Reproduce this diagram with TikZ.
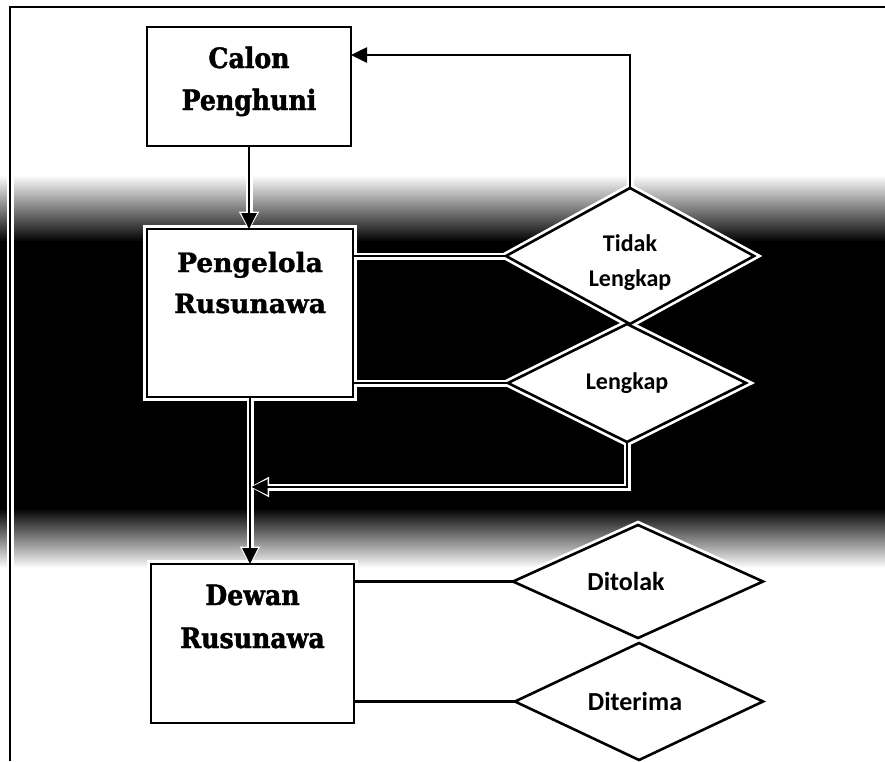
\documentclass[tikz,border=0pt]{standalone}
\usepackage{fontspec}
\setmainfont{DejaVu Serif}[BoldFeatures={FakeBold=1.2}]
\newfontfamily\condserif{DejaVu Serif}[FakeStretch=0.9, BoldFeatures={FakeBold=1.6}]
\newfontfamily\diafont{Carlito}
\usetikzlibrary{shapes.geometric,arrows.meta}
\newcommand\drawlinks[2]{%
  \draw[#1] (f0) -- (f1) -- (f2);
  \draw[#1,#2] (cp.south) -- (cp.south |- pr.north);
  \draw[#1,#2] (tl.north) -- (tl.north |- ytop) -- (cp.east |- ytop);
  \draw[#1] (tl.west -| pr.east) -- (tl.west);
  \draw[#1] (lk.west -| pr.east) -- (lk.west);
  \draw[#1,#2] (lk.south) -- (lk.south |- yret) -- ([xshift=1.5pt]pr.south |- yret);
  \draw[#1,#2] (pr.south) -- (pr.south |- dr.north);
  \draw[#1] (dt.west -| dr.east) -- (dt.west);
  \draw[#1] (dm.west -| dr.east) -- (dm.west);
}
\begin{document}
\begin{tikzpicture}[x=1pt,y=-1pt,
  boxshape/.style={rectangle, inner sep=0pt, outer sep=0pt, fill=white, draw=white, line width=8pt},
  diashape/.style={diamond, aspect=1.8, inner sep=0pt, outer sep=0pt, fill=white, draw=white,
     line width=8pt, align=center, font=\diafont\bfseries\fontsize{24}{35}\selectfont},
  bigdia/.style={font=\diafont\bfseries\fontsize{26}{32}\selectfont},
  halo/.style={draw=white, line width=7pt, line join=miter},
  wire/.style={draw=black, line width=2.6pt, line join=miter},
  halotip/.style={-{Triangle[length=19pt,width=19pt]}, shorten >=-1.5pt},
  wiretip/.style={-{Triangle[length=16pt,width=15pt]}}
]
\useasboundingbox (0,0) rectangle (885,761);
\fill[white] (0,0) rectangle (885,761);
% dark scan band
\shade[top color=white, bottom color=black] (0,175) rectangle (885,242);
\fill[black] (0,241) rectangle (885,509);
\shade[top color=black, bottom color=white] (0,508) rectangle (885,568);
% frame and helper coordinates
\coordinate (f0) at (10,761);
\coordinate (f1) at (10,7);
\coordinate (f2) at (885,7);
\coordinate (ytop) at (0,55);
\coordinate (yret) at (0,487);
% nodes: white halo, fill, text
\node[boxshape] (cp) at (249,86.5) {\parbox[c][119pt][t]{204pt}{\centering\condserif\bfseries\fontsize{28}{42}\selectfont\rule{0pt}{41pt}Calon\\Penghuni}};
\node[boxshape] (pr) at (250,313) {\parbox[c][168pt][t]{206pt}{\centering\bfseries\fontsize{26.5}{41}\selectfont\rule{0pt}{43pt}Pengelola\\Rusunawa}};
\node[boxshape] (dr) at (252.5,643.5) {\parbox[c][159pt][t]{203pt}{\centering\condserif\bfseries\fontsize{28}{43}\selectfont\rule{0pt}{41pt}Dewan\\Rusunawa}};
\node[diashape, minimum width=248pt, minimum height=136pt] (tl) at (630,256) {\rule{0pt}{30pt}Tidak\\Lengkap};
\node[diashape, minimum width=238pt, minimum height=118pt] (lk) at (627,383) {Lengkap};
\node[diashape, bigdia, minimum width=250pt, minimum height=113pt] (dt) at (638,581.5) {Ditolak\hspace{24pt}};
\node[diashape, bigdia, minimum width=248pt, minimum height=117pt] (dm) at (639,701.5) {Diterima\hspace{8pt}};
% halos of connectors
\drawlinks{halo}{halotip}
% black outlines of nodes
\draw[wire] (cp.north west) rectangle (cp.south east);
\draw[wire] (pr.north west) rectangle (pr.south east);
\draw[wire] (dr.north west) rectangle (dr.south east);
\foreach \n in {tl,lk,dt,dm}
  \draw[wire] (\n.north) -- (\n.east) -- (\n.south) -- (\n.west) -- cycle;
% black connectors
\drawlinks{wire}{wiretip}
\end{tikzpicture}
\end{document}
